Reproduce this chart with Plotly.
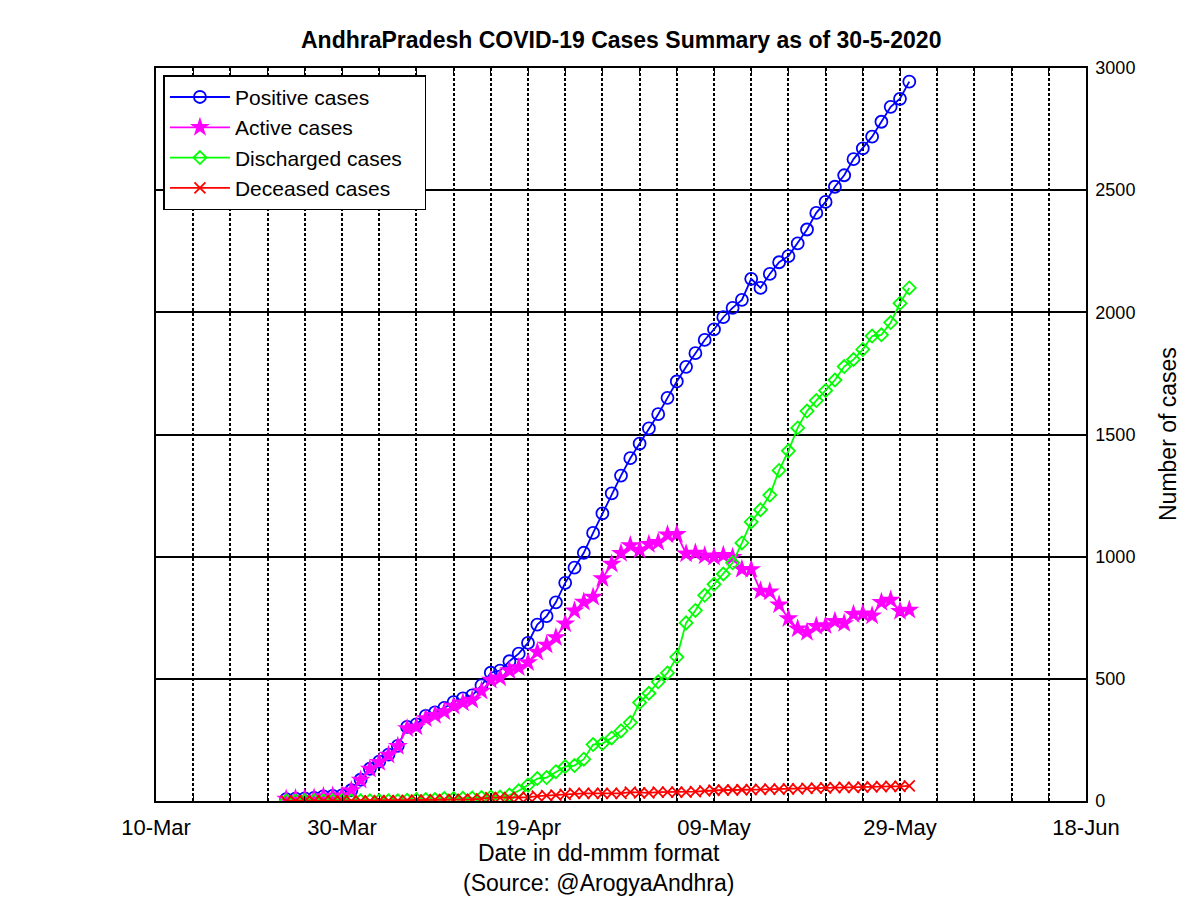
import pandas as pd
import plotly.graph_objects as go

# daily dates, 24-Mar-2020 .. 30-May-2020
dates = pd.date_range("2020-03-24", "2020-05-30", freq="D")

positive = [8, 10, 11, 13, 19, 21, 23, 44,
            87, 132, 161, 190, 226, 303, 314, 348, 363, 381, 405, 420, 432, 473, 525, 534, 572, 603, 647,
            722, 757, 813, 893, 955, 1016, 1097, 1177, 1259, 1332, 1403,
            1463, 1525, 1583, 1650, 1717, 1777, 1833, 1887, 1930, 1980, 2018, 2051, 2137, 2100, 2157,
            2205, 2230, 2282, 2339, 2407, 2452, 2514, 2561, 2627, 2671, 2719, 2780, 2841, 2874, 2944]

active = [8, 10, 10, 12, 18, 20, 22, 43,
          86, 131, 159, 188, 224, 297, 304, 338, 351, 365, 389, 402, 413, 450, 495, 504, 534, 546, 567,
          610, 639, 669, 725, 779, 814, 835, 911, 970, 1014, 1046,
          1027, 1051, 1059, 1090, 1092, 1012, 1015, 1004, 999, 1006, 998, 949, 948, 860, 856,
          803, 747, 705, 691, 715, 718, 736, 727, 764, 766, 758, 813, 823, 777, 782]

discharged = [0, 0, 1, 1, 1, 1, 1, 1,
              1, 1, 1, 1, 1, 3, 6, 6, 6, 10, 10, 11, 12, 14, 16, 16, 24, 42, 65,
              92, 96, 120, 141, 145, 171, 231, 235, 258, 287, 321,
              403, 441, 488, 524, 589, 729, 780, 842, 887, 929, 975, 1056, 1142, 1192, 1252,
              1353, 1433, 1527, 1596, 1639, 1680, 1723, 1778, 1807, 1848, 1903, 1908, 1958, 2037, 2100]

deceased = [0, 0, 0, 0, 0, 0, 0, 0,
            0, 0, 1, 1, 1, 3, 4, 4, 6, 6, 6, 7, 7, 9, 14, 14, 14, 15, 15,
            20, 22, 24, 27, 31, 31, 31, 31, 31, 31, 36,
            33, 33, 36, 36, 36, 36, 38, 41, 44, 45, 45, 46, 47, 48, 49,
            49, 50, 50, 52, 53, 54, 55, 56, 56, 57, 58, 59, 60, 60, 62]

FONT = "Liberation Sans"
PAD = "\u00a0" * 3  # widen the legend box a little, like the original

fig = go.Figure()
fig.add_trace(go.Scatter(x=dates, y=positive, name="Positive cases", mode="lines+markers", legendgroup="a",
                         line=dict(color="#0000ff", width=1.8),
                         marker=dict(symbol="circle-open", size=12, color="#0000ff", line=dict(width=1.8))))
fig.add_trace(go.Scatter(x=dates, y=active, name="Active cases", mode="lines+markers", legendgroup="b",
                         line=dict(color="#ff00ff", width=1.8),
                         marker=dict(symbol="star", size=15, color="#ff00ff")))
fig.add_trace(go.Scatter(x=dates, y=discharged, name="Discharged cases" + PAD, mode="lines+markers",
                         legendgroup="c", line=dict(color="#00ff00", width=1.8),
                         marker=dict(symbol="diamond-open", size=10, color="#00ff00", line=dict(width=1.8))))
fig.add_trace(go.Scatter(x=dates, y=deceased, name="Deceased cases", mode="lines+markers", legendgroup="d",
                         line=dict(color="#ff0000", width=1.8),
                         marker=dict(symbol="x-thin-open", size=11, color="#ff0000", line=dict(width=1.8))))

# page body has an 8px margin, so the figure's margins are set 8px smaller on the left/top
fig.update_layout(
    width=1200, height=898,
    paper_bgcolor="white", plot_bgcolor="white",
    margin=dict(l=148, r=122, t=60, b=105, autoexpand=False),
    font=dict(family=FONT, color="black"),
    showlegend=True,
    legend=dict(x=0.008, y=0.99, xanchor="left", yanchor="top",
                bgcolor="white", bordercolor="black", borderwidth=1.5,
                itemwidth=60, tracegroupgap=0,
                font=dict(family=FONT, size=21, color="black")),
    annotations=[
        dict(text="<b>AndhraPradesh COVID-19 Cases Summary as of 30-5-2020</b>",
             xref="paper", yref="paper", x=(621 - 156) / 930, y=(801 - 40) / 733,
             xanchor="center", yanchor="middle", showarrow=False,
             font=dict(family=FONT, size=23, color="black")),
        dict(text="Date in dd-mmm format<br>(Source: @ArogyaAndhra)",
             xref="paper", yref="paper", x=(598 - 156) / 930, y=(801 - 868) / 733,
             xanchor="center", yanchor="middle", showarrow=False,
             font=dict(family=FONT, size=23, color="black")),
        dict(text="Number of cases", textangle=-90,
             xref="paper", yref="paper", x=(1168 - 156) / 930, y=(801 - 434) / 733,
             xanchor="center", yanchor="middle", showarrow=False,
             font=dict(family=FONT, size=23, color="black")),
    ],
)

fig.update_xaxes(
    type="date", range=["2020-03-10", "2020-06-18"], automargin=False,
    tick0="2020-03-10", dtick=20 * 86400000, tickformat="%d-%b",
    tickfont=dict(family=FONT, size=22, color="black"), ticklabelstandoff=6,
    showgrid=True, gridcolor="black", griddash="3px,2px", gridwidth=1.5,
    minor=dict(dtick=4 * 86400000, tick0="2020-03-10", showgrid=True, gridcolor="black",
               griddash="3px,2px", gridwidth=1.5, ticks="inside", ticklen=5, tickcolor="black"),
    ticks="inside", ticklen=6, tickcolor="black",
    showline=True, linecolor="black", linewidth=1.5, mirror="ticks",
    zeroline=False,
)
fig.update_yaxes(
    side="right", range=[0, 3000], dtick=500, automargin=False,
    tickfont=dict(family=FONT, size=18, color="black"), ticklabelstandoff=4,
    showgrid=True, gridcolor="black", gridwidth=1.5,
    ticks="inside", ticklen=6, tickcolor="black",
    showline=True, linecolor="black", linewidth=1.5, mirror="ticks",
    zeroline=False,
)

fig.write_html("out.html")
